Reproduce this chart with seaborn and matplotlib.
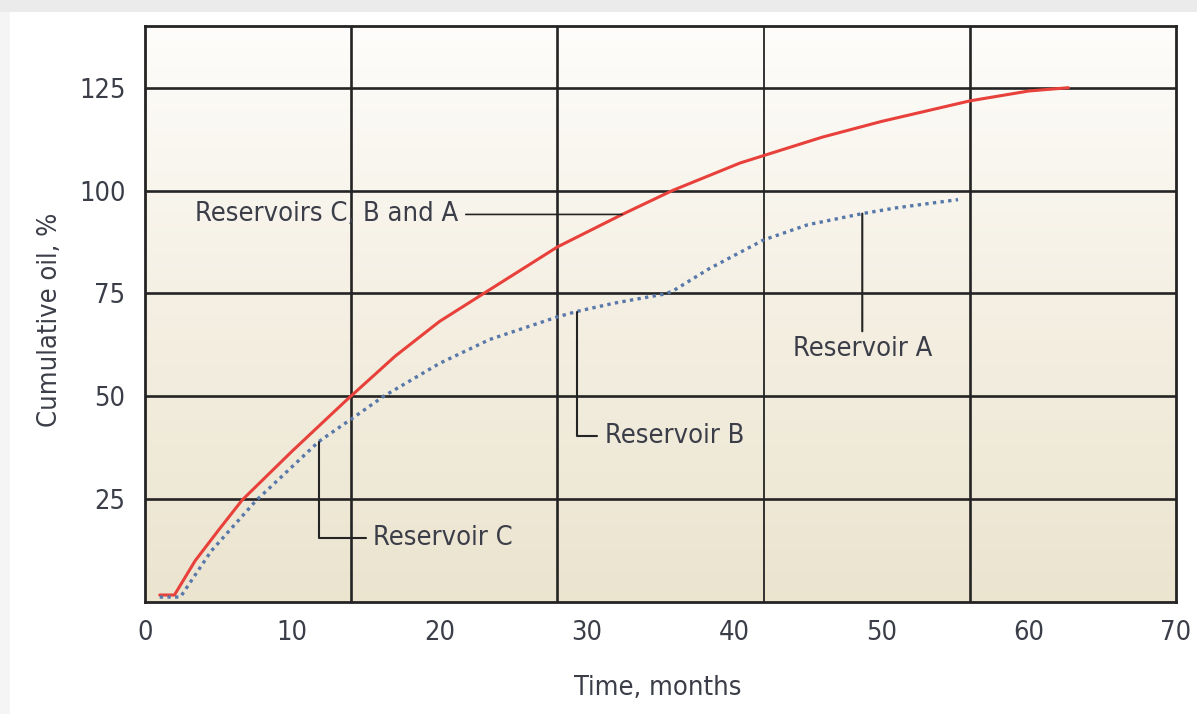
import numpy as np
import seaborn as sns
import matplotlib.pyplot as plt
from matplotlib import font_manager
from matplotlib.colors import LinearSegmentedColormap
from matplotlib.patches import Rectangle

# Solid curve: reservoirs C, B and A produced together
combined_months = [1.0, 2.0, 3.4, 5.0, 6.6, 10.0, 13.6, 17.0, 20.0, 23.0, 28.0,
                   32.4, 35.8, 40.4, 42.0, 46.0, 50.0, 56.0, 60.0, 62.7]
combined_pct = [1.7, 1.7, 10.0, 17.5, 24.8, 36.7, 48.8, 59.8, 68.2, 75.0, 86.3,
                94.2, 100.0, 106.7, 108.5, 113.0, 116.8, 121.8, 124.2, 125.0]

# Dotted curve: reservoirs C, B and A produced in turn
sequential_months = [1.0, 2.4, 4.5, 7.5, 11.8, 14.1, 16.2, 20.0, 23.4, 28.0, 29.3,
                     31.8, 35.2, 35.8, 38.3, 42.0, 45.0, 48.7, 51.0, 55.2]
sequential_pct = [1.2, 1.2, 12.4, 24.5, 39.0, 44.7, 50.0, 58.0, 63.8, 69.3, 70.6,
                  72.6, 74.8, 75.5, 81.0, 88.0, 91.7, 94.4, 95.8, 97.8]

x_ticks = [0, 10, 20, 30, 40, 50, 60, 70]
y_ticks = [25, 50, 75, 100, 125]
grid_months = [14, 28, 42, 56]

sns.set_style("white")

# pick the narrowest sans available (the original uses a condensed face)
fonts = font_manager.fontManager.ttflist
if any(f.name == 'Liberation Sans Narrow' for f in fonts):
    plt.rcParams['font.family'] = ['Liberation Sans Narrow', 'DejaVu Sans']
    fs = 22
elif any(f.name == 'DejaVu Sans' and 'condensed' in str(f.stretch) for f in fonts):
    plt.rcParams['font.family'] = ['DejaVu Sans']
    plt.rcParams['font.stretch'] = 'condensed'
    fs = 19.5
else:
    plt.rcParams['font.family'] = ['Roboto', 'DejaVu Sans']
    fs = 19

text_color = '#3b3e48'
line_color = '#242424'
red = '#e8403a'
blue = '#5878aa'

fig = plt.figure(figsize=(11.97, 7.14), dpi=100)
fig.patch.set_facecolor('white')
# light grey edges of the scan
fig.patches.append(Rectangle((0, 1 - 12 / 714), 1, 12 / 714, transform=fig.transFigure,
                             facecolor='#ebebeb', edgecolor='none'))
fig.patches.append(Rectangle((0, 0), 10 / 1197, 1 - 12 / 714, transform=fig.transFigure,
                             facecolor='#f5f5f5', edgecolor='none'))

ax = fig.add_axes([145 / 1197, 112 / 714, 1031 / 1197, 576 / 714])
ax.set_xlim(0, 70)
ax.set_ylim(0, 140)

# cream gradient behind the grid
bg = LinearSegmentedColormap.from_list('bg', ['#ebe4cf', '#f4efe2', '#fefdfb'])
ax.imshow(np.linspace(0, 1, 256).reshape(-1, 1), cmap=bg, origin='lower', aspect='auto',
          extent=[0, 1, 0, 1], transform=ax.transAxes, zorder=0)

# heavy grid
for m in grid_months:
    ax.axvline(m, color=line_color, lw=1.3 if m == 42 else 1.9, zorder=1)
for v in y_ticks:
    ax.axhline(v, color=line_color, lw=1.9, zorder=1)

sns.lineplot(x=combined_months, y=combined_pct, color=red, lw=2.2, ax=ax, zorder=3)
sns.lineplot(x=sequential_months, y=sequential_pct, color=blue, lw=2.4,
             linestyle=(0, (1.0, 1.3)), ax=ax, zorder=3)

# leader-line labels
leader = dict(arrowstyle='-', color=line_color, lw=1.5, shrinkA=3, shrinkB=0)
ax.annotate('Reservoirs C, B and A', xy=(combined_months[11], combined_pct[11]),
            xytext=(3.4, 94.2), ha='left', va='center', fontsize=fs, color=text_color,
            arrowprops=dict(leader, relpos=(1, 0.5), lw=1.2), zorder=4)
ax.annotate('Reservoir C', xy=(sequential_months[4], sequential_pct[4]),
            xytext=(15.5, 15.5), ha='left', va='center', fontsize=fs, color=text_color,
            arrowprops=dict(leader, relpos=(0, 0.5),
                            connectionstyle='angle,angleA=0,angleB=90,rad=0'), zorder=4)
ax.annotate('Reservoir B', xy=(sequential_months[10], sequential_pct[10]),
            xytext=(31.2, 40.3), ha='left', va='center', fontsize=fs, color=text_color,
            arrowprops=dict(leader, relpos=(0, 0.5),
                            connectionstyle='angle,angleA=0,angleB=90,rad=0'), zorder=4)
ax.annotate('Reservoir A', xy=(sequential_months[17], sequential_pct[17]),
            xytext=(sequential_months[17], 61.5), ha='center', va='center', fontsize=fs,
            color=text_color, arrowprops=dict(leader, relpos=(0.5, 1), shrinkA=1), zorder=4)

ax.set_xticks(x_ticks)
ax.set_yticks(y_ticks)
ax.tick_params(axis='both', length=0, labelsize=fs, labelcolor=text_color)
ax.tick_params(axis='x', pad=13)
ax.tick_params(axis='y', pad=14)
ax.set_xlabel('Time, months', fontsize=fs, color=text_color)
ax.set_ylabel('Cumulative oil, %', fontsize=fs, color=text_color)
ax.xaxis.set_label_coords(0.4976, -0.127)
ax.yaxis.set_label_coords(-0.08, 0.49)
ax.grid(False)

for spine in ax.spines.values():
    spine.set_visible(True)
    spine.set_color(line_color)
    spine.set_linewidth(2.0)
    spine.set_zorder(5)

plt.savefig('out.png', dpi=100, facecolor=fig.get_facecolor())
